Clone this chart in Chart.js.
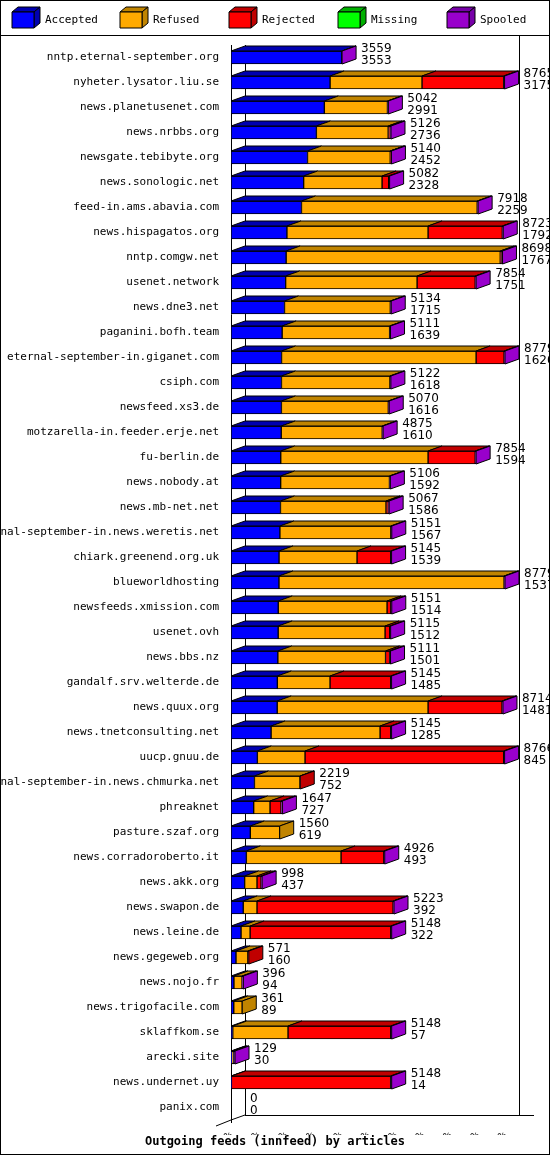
<!DOCTYPE html>
<html><head><meta charset="utf-8">
<script src="https://cdn.jsdelivr.net/npm/chart.js@4/dist/chart.umd.min.js"></script>
<style>body{margin:0;background:#fff}canvas{display:block}</style>
</head><body>
<canvas id="c" width="550" height="1155"></canvas>
<script>
  // ========== DATA ==========
  const hosts = ['nntp.eternal-september.org','nyheter.lysator.liu.se','news.planetusenet.com','news.nrbbs.org','newsgate.tebibyte.org','news.sonologic.net','feed-in.ams.abavia.com','news.hispagatos.org','nntp.comgw.net','usenet.network','news.dne3.net','paganini.bofh.team','eternal-september-in.giganet.com','csiph.com','newsfeed.xs3.de','motzarella-in.feeder.erje.net','fu-berlin.de','news.nobody.at','news.mb-net.net','eternal-september-in.news.weretis.net','chiark.greenend.org.uk','blueworldhosting','newsfeeds.xmission.com','usenet.ovh','news.bbs.nz','gandalf.srv.welterde.de','news.quux.org','news.tnetconsulting.net','uucp.gnuu.de','eternal-september-in.news.chmurka.net','phreaknet','pasture.szaf.org','news.corradoroberto.it','news.akk.org','news.swapon.de','news.leine.de','news.gegeweb.org','news.nojo.fr','news.trigofacile.com','sklaffkom.se','arecki.site','news.undernet.uy','panix.com'];
  const offered  = [3559,8765,5042,5126,5140,5082,7918,8723,8698,7854,5134,5111,8779,5122,5070,4875,7854,5106,5067,5151,5145,8779,5151,5115,5111,5145,8714,5145,8766,2219,1647,1560,4926,998,5223,5148,571,396,361,5148,129,5148,0];
  const accepted = [3553,3175,2991,2736,2452,2328,2259,1792,1767,1751,1715,1639,1620,1618,1616,1610,1594,1592,1586,1567,1539,1537,1514,1512,1501,1485,1481,1285,845,752,727,619,493,437,392,322,160,94,89,57,30,14,0];
  const refused  = [0,2945,2021,2300,2650,2512,5629,4522,6860,4211,3389,3442,6233,3474,3424,3235,4720,3484,3380,3554,2499,7212,3486,3424,3450,1688,4833,3491,1527,1459,523,941,3033,396,441,290,380,260,272,1770,40,0,0];
  const rejected = [0,2615,0,60,8,212,0,2379,41,1862,0,0,896,0,0,0,1510,0,71,0,1077,0,121,149,130,1942,2370,339,6364,8,352,0,1370,130,4360,4506,31,0,0,3291,0,5100,0];
  const missing  = new Array(43).fill(0);
  const spooled  = [6,30,30,30,30,30,30,30,30,30,30,30,30,30,30,30,30,30,30,30,30,30,30,30,30,30,30,30,30,0,45,0,30,35,30,30,0,42,0,30,59,34,0];
  const tickLabels = ['0%','10%','20%','30%','40%','50%','60%','70%','80%','90%','100%'];
  const seriesNames = ['Accepted','Refused','Rejected','Missing','Spooled'];

  const front = ['#0000ff','#ffaa00','#ff0000','#00ff00','#9900cc'];
  const dark  = ['#0000b0','#c08400','#c00000','#00b000','#7700a8'];
  const DX = 14, DY = 5;
  const maxTotal = Math.max(...offered);
  const pct = arr => arr.map(v => v / maxTotal * 100);

  function face(ctx, pts, fill) {
    ctx.beginPath();
    ctx.moveTo(pts[0][0], pts[0][1]);
    for (let i = 1; i < pts.length; i++) ctx.lineTo(pts[i][0], pts[i][1]);
    ctx.closePath();
    ctx.fillStyle = fill; ctx.fill();
    ctx.strokeStyle = '#000'; ctx.lineWidth = 1; ctx.stroke();
  }

  const threeD = {
    id: 'threeD',
    beforeDatasetsDraw(chart) {
      const ctx = chart.ctx, a = chart.chartArea;
      ctx.save();
      ctx.strokeStyle = '#000'; ctx.lineWidth = 1;
      ctx.beginPath();
      ctx.moveTo(a.left + DX + .5, a.top); ctx.lineTo(a.left + DX + .5, a.bottom - DY);
      ctx.moveTo(a.right + DX + .5, a.top - 10); ctx.lineTo(a.right + DX + .5, a.bottom - DY);
      ctx.moveTo(a.left + DX, a.bottom - DY + .5); ctx.lineTo(a.right + DX + 15, a.bottom - DY + .5);
      ctx.moveTo(a.left, a.bottom); ctx.lineTo(a.left + DX, a.bottom - DY);
      ctx.moveTo(a.left - 15, a.bottom + 6); ctx.lineTo(a.left, a.bottom);
      ctx.moveTo(a.left + .5, a.top); ctx.lineTo(a.left + .5, a.bottom + 3);
      ctx.stroke();
      ctx.restore();
    },
    afterDatasetsDraw(chart) {
      const ctx = chart.ctx;
      ctx.save();
      hosts.forEach((h, i) => {
        let last = -1, endX = null, top = 0, bottom = 0;
        chart.data.datasets.forEach((ds, d) => {
          const el = chart.getDatasetMeta(d).data[i];
          top = el.y - el.height / 2; bottom = el.y + el.height / 2;
          if (ds.data[i] > 0) {
            face(ctx, [[el.base, top], [el.x, top], [el.x + DX, top - DY], [el.base + DX, top - DY]], dark[d]);
            last = d; endX = el.x;
          }
        });
        if (last >= 0) {
          face(ctx, [[endX, top], [endX + DX, top - DY], [endX + DX, bottom - DY], [endX, bottom]], last === 4 ? front[4] : dark[last]);
        } else {
          endX = chart.scales.x.getPixelForValue(0);
        }
        ctx.fillStyle = '#000';
        ctx.font = '12px "DejaVu Sans"';
        ctx.textBaseline = 'top'; ctx.textAlign = 'left';
        ctx.fillText(String(offered[i]), endX + DX + 5, top - DY - 3);
        ctx.fillText(String(accepted[i]), endX + DX + 5, top - DY + 9);
      });
      ctx.restore();
    },
    afterDraw(chart) {
      const ctx = chart.ctx;
      ctx.save();
      ctx.strokeStyle = '#000'; ctx.lineWidth = 1;
      ctx.strokeRect(.5, .5, 549, 1154);
      ctx.beginPath(); ctx.moveTo(0, 35.5); ctx.lineTo(550, 35.5); ctx.stroke();
      const lx = [12, 120, 229, 338, 447];
      seriesNames.forEach((n, k) => {
        const x = lx[k], y = 12;
        face(ctx, [[x, y], [x + 22, y], [x + 28, y - 5], [x + 6, y - 5]], dark[k]);
        face(ctx, [[x + 22, y], [x + 28, y - 5], [x + 28, y + 11], [x + 22, y + 16]], dark[k]);
        face(ctx, [[x, y], [x + 22, y], [x + 22, y + 16], [x, y + 16]], front[k]);
        ctx.fillStyle = '#000'; ctx.font = '11px "DejaVu Sans Mono"';
        ctx.textBaseline = 'middle'; ctx.textAlign = 'left';
        ctx.fillText(n, x + 33, 20);
      });
      ctx.font = 'bold 12px "DejaVu Sans Mono"'; ctx.textAlign = 'center';
      ctx.fillText('Outgoing feeds (innfeed) by articles', 275, 1142);
      ctx.restore();
    }
  };

  const parts = [accepted, refused, rejected, missing, spooled];
  new Chart(document.getElementById('c'), {
    type: 'bar',
    data: {
      labels: hosts,
      datasets: parts.map((p, k) => ({
        label: seriesNames[k], data: pct(p), backgroundColor: front[k],
        borderColor: '#000', borderWidth: 1, borderSkipped: false, barThickness: 13
      }))
    },
    options: {
      responsive: false, animation: false, indexAxis: 'y',
      layout: { padding: { top: 45, right: 45, bottom: 20, left: 0 } },
      plugins: { legend: { display: false }, tooltip: { enabled: false } },
      scales: {
        x: {
          stacked: true, min: 0, max: 100,
          grid: { display: false }, border: { display: false },
          afterBuildTicks: s => { s.ticks = tickLabels.map((t, k) => ({ value: k * 10 })); },
          afterFit: s => { s.height = 15; },
          ticks: { color: '#000', padding: 1, font: { family: 'DejaVu Sans Mono', size: 11 },
                   callback: (v, k) => tickLabels[k] }
        },
        y: {
          stacked: true,
          grid: { display: false }, border: { display: false },
          afterFit: s => { s.width = 231; },
          ticks: { color: '#000', padding: 4, autoSkip: false, font: { family: 'DejaVu Sans Mono', size: 11 } }
        }
      }
    },
    plugins: [threeD]
  });
</script>
</body></html>
